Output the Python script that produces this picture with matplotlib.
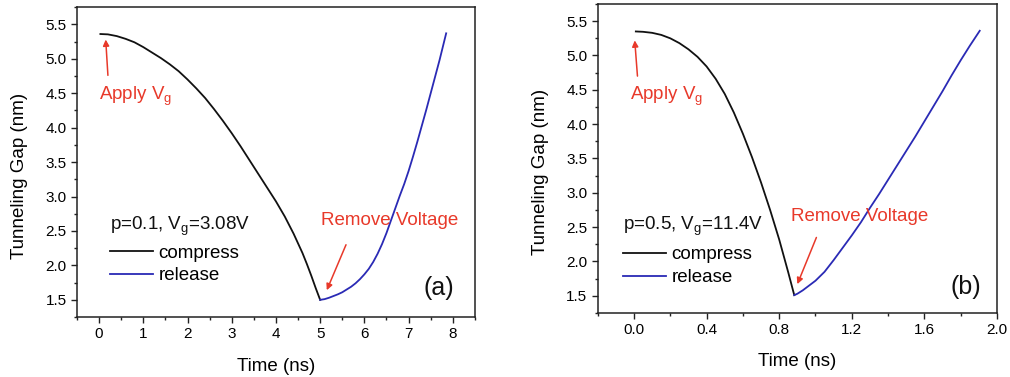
import matplotlib
matplotlib.use("Agg")
import matplotlib.pyplot as plt
from matplotlib.ticker import MultipleLocator, FormatStrFormatter

plt.rcParams['font.family'] = ['Liberation Sans', 'DejaVu Sans']

# ---- data ----
# panel (a): p=0.1, Vg=3.08V
a_compress_t = [0.03, 0.2, 0.4, 0.6, 0.8, 1.0, 1.2, 1.4, 1.6, 1.8, 2.0, 2.2, 2.4, 2.6, 2.8,
                3.0, 3.2, 3.4, 3.6, 3.8, 4.0, 4.2, 4.4, 4.6, 4.7, 4.8, 4.9, 5.0]
a_compress_g = [5.36, 5.355, 5.33, 5.29, 5.24, 5.17, 5.09, 5.01, 4.92, 4.82, 4.70, 4.57, 4.43, 4.27, 4.10,
                3.92, 3.73, 3.53, 3.33, 3.13, 2.93, 2.71, 2.46, 2.18, 2.02, 1.85, 1.67, 1.50]
a_release_t = [5.0, 5.1, 5.2, 5.3, 5.4, 5.5, 5.6, 5.7, 5.8, 5.9, 6.0, 6.1, 6.2, 6.3, 6.4, 6.5,
               6.6, 6.7, 6.8, 6.9, 7.0, 7.1, 7.2, 7.3, 7.4, 7.5, 7.6, 7.7, 7.85]
a_release_g = [1.50, 1.51, 1.53, 1.555, 1.58, 1.61, 1.65, 1.69, 1.74, 1.80, 1.87, 1.95, 2.05, 2.17, 2.31, 2.47,
               2.65, 2.83, 3.01, 3.18, 3.37, 3.58, 3.80, 4.03, 4.26, 4.50, 4.74, 4.98, 5.37]

# panel (b): p=0.5, Vg=11.4V
b_compress_t = [0.01, 0.05, 0.1, 0.15, 0.2, 0.25, 0.3, 0.35, 0.4, 0.45, 0.5, 0.55, 0.6, 0.65,
                0.7, 0.75, 0.8, 0.85, 0.883]
b_compress_g = [5.35, 5.345, 5.33, 5.30, 5.25, 5.18, 5.09, 4.98, 4.84, 4.66, 4.44, 4.17, 3.86, 3.52,
                3.15, 2.75, 2.32, 1.84, 1.51]
b_release_t = [0.883, 0.9, 0.93, 0.96, 1.0, 1.05, 1.1, 1.15, 1.2, 1.25, 1.3, 1.35, 1.4, 1.45, 1.5,
               1.55, 1.6, 1.65, 1.7, 1.75, 1.8, 1.85, 1.905]
b_release_g = [1.51, 1.53, 1.58, 1.64, 1.72, 1.85, 2.02, 2.20, 2.38, 2.57, 2.78, 2.98, 3.19, 3.40, 3.61,
               3.82, 4.04, 4.26, 4.48, 4.71, 4.93, 5.14, 5.36]

labels = ["compress", "release"]
param_texts = ["p=0.1, V$_\\mathregular{g}$=3.08V", "p=0.5, V$_\\mathregular{g}$=11.4V"]
panel_tags = ["(a)", "(b)"]

RED = "#e8392a"
BLUE = "#2a2ab5"
BLACK = "#111111"

fig = plt.figure(figsize=(10.1, 3.77), dpi=100)
axA = fig.add_axes([0.0762, 0.159, 0.394, 0.822])
axB = fig.add_axes([0.5918, 0.1698, 0.3953, 0.8196])

panels = [
    dict(ax=axA, ct=a_compress_t, cg=a_compress_g, rt=a_release_t, rg=a_release_g,
         xlim=(-0.5, 8.5), xmaj=1, xmin=0.5, xfmt="%d",
         apply_txt=(-0.01, 4.41), apply_tail=(0.2, 4.76), apply_head=(0.15, 5.28),
         rem_txt=(5.02, 2.59), rem_tail=(5.585, 2.30), rem_head=(5.15, 1.64),
         ptxt=(0.25, 2.52), leg=(0.083, 0.234), tag=(0.87, 0.094)),
    dict(ax=axB, ct=b_compress_t, cg=b_compress_g, rt=b_release_t, rg=b_release_g,
         xlim=(-0.2, 2.0), xmaj=0.4, xmin=0.2, xfmt="%.1f",
         apply_txt=(-0.024, 4.36), apply_tail=(0.019, 4.70), apply_head=(0.004, 5.22),
         rem_txt=(0.867, 2.59), rem_tail=(1.005, 2.35), rem_head=(0.90, 1.67),
         ptxt=(-0.06, 2.47), leg=(0.063, 0.216), tag=(0.884, 0.084)),
]

for i, p in enumerate(panels):
    ax = p['ax']
    l1, = ax.plot(p['ct'], p['cg'], color=BLACK, lw=1.3)
    l2, = ax.plot(p['rt'], p['rg'], color=BLUE, lw=1.3)
    ax.set_xlim(*p['xlim'])
    ax.set_ylim(1.25, 5.75)
    ax.xaxis.set_major_locator(MultipleLocator(p['xmaj']))
    ax.xaxis.set_minor_locator(MultipleLocator(p['xmin']))
    ax.xaxis.set_major_formatter(FormatStrFormatter(p['xfmt']))
    ax.yaxis.set_major_locator(MultipleLocator(0.5))
    ax.yaxis.set_minor_locator(MultipleLocator(0.25))
    ax.yaxis.set_major_formatter(FormatStrFormatter("%.1f"))
    ax.tick_params(which='both', direction='out', top=False, right=False,
                   labelsize=11, color='#222222', width=1.0)
    ax.tick_params(which='major', length=4.5, pad=3)
    ax.tick_params(which='minor', length=2.5)
    for s in ax.spines.values():
        s.set_linewidth(1.1)
        s.set_color('#222222')

    ax.set_xlabel("Time (ns)", fontsize=13.5)
    ax.set_ylabel("Tunneling Gap (nm)", fontsize=13.5)
    ax.yaxis.set_label_coords(-0.123, 0.455)
    ax.xaxis.set_label_coords(0.5, -0.131)

    # annotations
    ax.text(*p['apply_txt'], "Apply V$_\\mathregular{g}$", color=RED, fontsize=13.5,
            ha='left', va='baseline')
    ax.annotate('', xy=p['apply_head'], xytext=p['apply_tail'],
                arrowprops=dict(arrowstyle='-|>', color=RED, lw=1.1, mutation_scale=9,
                                shrinkA=0, shrinkB=0))
    ax.text(*p['rem_txt'], "Remove Voltage", color=RED, fontsize=13.5,
            ha='left', va='baseline')
    ax.annotate('', xy=p['rem_head'], xytext=p['rem_tail'],
                arrowprops=dict(arrowstyle='-|>', color=RED, lw=1.1, mutation_scale=9,
                                shrinkA=0, shrinkB=0))

    ax.text(*p['ptxt'], param_texts[i], fontsize=13.5, ha='left', va='baseline',
            color=BLACK)
    leg = ax.legend([l1, l2], labels, loc='upper left', bbox_to_anchor=p['leg'],
                    frameon=False, fontsize=13.5, handlelength=2.3, handletextpad=0.3,
                    labelspacing=0.3, borderpad=0, borderaxespad=0)
    ax.text(*p['tag'], panel_tags[i], transform=ax.transAxes, fontsize=18,
            ha='left', va='center', color=BLACK)

fig.savefig("out.png", dpi=100)
